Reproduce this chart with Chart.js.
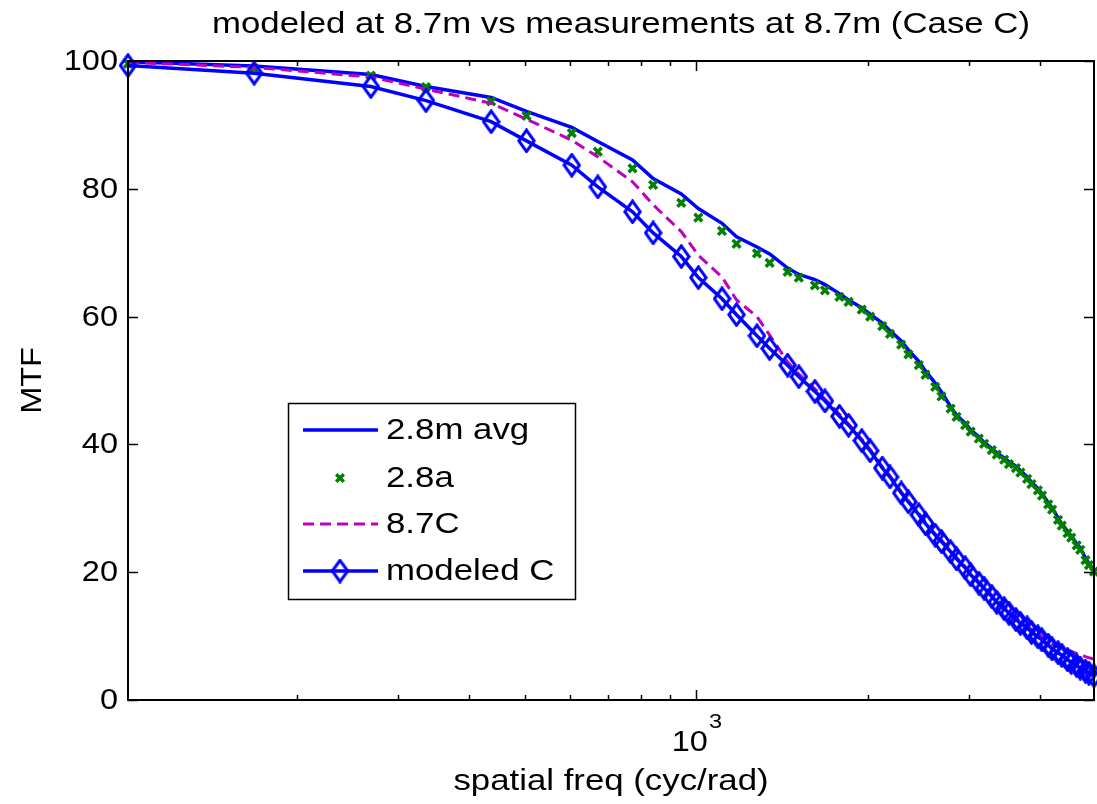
<!DOCTYPE html>
<html>
<head>
<meta charset="utf-8">
<script src="https://cdn.jsdelivr.net/npm/chart.js@4.4.0/dist/chart.umd.min.js"></script>
<style>
  html, body { margin: 0; padding: 0; background: #ffffff; }
  #wrap { width: 1097px; height: 804px; }
</style>
</head>
<body>
<div id="wrap"><canvas id="c" width="1097" height="804"></canvas></div>
<script>
// Spatial frequency samples (cyc/rad)
const freq = [101, 168, 269, 336, 437, 504, 605, 672, 773, 840,
  941, 1008, 1109, 1176, 1277, 1344, 1445, 1512, 1613, 1680,
  1781, 1848, 1949, 2016, 2117, 2184, 2285, 2352, 2453, 2520,
  2621, 2688, 2789, 2856, 2957, 3024, 3125, 3192, 3293, 3360,
  3461, 3528, 3629, 3696, 3797, 3864, 3965, 4032, 4133, 4200,
  4301, 4368, 4469, 4536, 4637, 4704, 4805, 4872, 4973];

// MTF (%) per series
const avg28m = [99.9, 99.2, 97.9, 96.0, 94.3, 92.1, 89.6, 87.4, 84.5, 81.6,
  79.2, 76.9, 74.6, 72.5, 70.9, 69.8, 67.6, 66.6, 65.8, 65.0,
  63.6, 62.6, 61.4, 60.4, 59.0, 57.8, 56.2, 54.8, 53.0, 51.5,
  49.6, 48.2, 45.9, 44.6, 43.3, 42.3, 41.2, 40.3, 39.4, 38.7,
  37.9, 37.3, 36.6, 35.9, 34.9, 34.1, 33.1, 32.3, 30.9, 30.1,
  28.5, 27.6, 26.4, 25.7, 24.5, 23.8, 22.2, 21.4, 20.3];

const meas28a = [99.6, 98.8, 97.7, 95.9, 93.7, 91.4, 88.7, 85.8, 83.2, 80.6,
  77.8, 75.5, 73.4, 71.4, 69.9, 68.4, 67.0, 66.1, 64.9, 64.1,
  63.1, 62.3, 61.1, 60.0, 58.5, 57.3, 55.6, 54.1, 52.4, 50.9,
  49.0, 47.5, 45.6, 44.3, 43.0, 42.0, 40.9, 40.1, 39.1, 38.4,
  37.6, 36.9, 36.3, 35.6, 34.6, 33.8, 32.8, 32.0, 30.6, 29.8,
  28.2, 27.3, 26.1, 25.4, 24.2, 23.5, 21.9, 21.1, 20.1];

const meas87C = [99.8, 99.0, 97.5, 95.6, 93.4, 90.9, 87.6, 85.0, 81.1, 77.5,
  73.3, 69.6, 66.2, 62.6, 60.0, 57.1, 52.9, 51.0, 48.7, 47.1,
  44.7, 43.2, 40.8, 39.2, 36.5, 35.1, 32.6, 31.2, 29.2, 27.8,
  26.0, 25.0, 23.4, 22.3, 20.9, 19.8, 18.5, 17.7, 16.4, 15.6,
  14.6, 13.9, 12.9, 12.3, 11.7, 11.0, 10.4, 9.9, 9.2, 8.7,
  8.3, 8.1, 7.9, 7.6, 7.3, 7.1, 6.8, 6.6, 6.4];

const modeledC = [99.3, 98.1, 96.0, 93.8, 90.5, 87.5, 83.7, 80.3, 76.4, 73.1,
  69.4, 66.1, 62.8, 60.3, 57.0, 55.0, 52.4, 50.6, 48.3, 46.8,
  44.4, 43.0, 40.6, 39.0, 36.3, 34.9, 32.4, 31.0, 29.0, 27.6,
  25.8, 24.8, 23.2, 22.1, 20.7, 19.6, 18.3, 17.5, 16.2, 15.3,
  14.3, 13.6, 12.6, 12.0, 11.3, 10.6, 9.9, 9.4, 8.6, 8.0,
  7.4, 7.0, 6.3, 5.9, 5.4, 5.0, 4.5, 4.2, 3.8];

const seriesNames = ['2.8m avg', '2.8a', '8.7C', 'modeled C'];
const yTicks = [0, 20, 40, 60, 80, 100];
const xMajorTicks = [1000];
const xMinorTicks = [200, 300, 400, 500, 600, 700, 800, 900, 2000, 3000, 4000];
const titleText = 'modeled at 8.7m vs measurements at 8.7m (Case C)';
const xTitle = 'spatial freq (cyc/rad)';
const yTitle = 'MTF';

const BLUE = '#0000ff';
const GREEN = '#008000';
const MAGENTA = '#bf00bf';
const FONT = '"Liberation Sans", Arial, Helvetica, sans-serif';
const FONT_PX = 29;
const STRETCH = 1.2;      // title, axis title, legend text
const TICK_STRETCH = 1.12; // tick labels

// hollow diamond marker sprite
function diamondSprite() {
  const w = 19, h = 25;
  const cv = document.createElement('canvas');
  cv.width = w; cv.height = h;
  const g = cv.getContext('2d');
  g.strokeStyle = BLUE;
  g.lineWidth = 3;
  g.lineJoin = 'miter';
  g.beginPath();
  g.moveTo(w / 2, 1.8);
  g.lineTo(w - 1.8, h / 2);
  g.lineTo(w / 2, h - 1.8);
  g.lineTo(1.8, h / 2);
  g.closePath();
  g.stroke();
  return cv;
}
const diamond = diamondSprite();

const pts = arr => arr.map((v, i) => ({ x: freq[i], y: v }));

function txt(ctx, s, x, y, align, base, size, sx) {
  ctx.save();
  ctx.translate(x, y);
  ctx.scale(sx || STRETCH, 1);
  ctx.font = (size || FONT_PX) + 'px ' + FONT;
  ctx.fillStyle = '#000';
  ctx.textAlign = align;
  ctx.textBaseline = base;
  ctx.fillText(s, 0, 0);
  ctx.restore();
}

const frame = {
  id: 'frame',
  afterDraw(chart) {
    const ctx = chart.ctx;
    const a = chart.chartArea;
    const xs = chart.scales.x, ys = chart.scales.y;
    ctx.save();
    ctx.strokeStyle = '#000';
    ctx.lineWidth = 2;
    ctx.strokeRect(a.left, a.top, a.right - a.left, a.bottom - a.top);

    // inward ticks on all four sides
    ctx.lineWidth = 1.5;
    ctx.beginPath();
    yTicks.forEach(v => {
      const y = Math.round(ys.getPixelForValue(v)) + 0.5;
      ctx.moveTo(a.left, y); ctx.lineTo(a.left + 10, y);
      ctx.moveTo(a.right, y); ctx.lineTo(a.right - 10, y);
    });
    xMinorTicks.forEach(v => {
      const x = Math.round(xs.getPixelForValue(v)) + 0.5;
      ctx.moveTo(x, a.bottom); ctx.lineTo(x, a.bottom - 5);
      ctx.moveTo(x, a.top); ctx.lineTo(x, a.top + 5);
    });
    xMajorTicks.forEach(v => {
      const x = Math.round(xs.getPixelForValue(v)) + 0.5;
      ctx.moveTo(x, a.bottom); ctx.lineTo(x, a.bottom - 10);
      ctx.moveTo(x, a.top); ctx.lineTo(x, a.top + 10);
    });
    ctx.stroke();

    // tick labels
    yTicks.forEach(v => {
      txt(ctx, String(v), a.left - 10, ys.getPixelForValue(v) + 1, 'right', 'middle', FONT_PX, TICK_STRETCH);
    });
    xMajorTicks.forEach(v => {
      const x = xs.getPixelForValue(v);
      const exp = String(Math.round(Math.log10(v)));
      const es = Math.round(FONT_PX * 0.72);
      ctx.font = FONT_PX + 'px ' + FONT;
      const wb = ctx.measureText('10').width * TICK_STRETCH;
      ctx.font = es + 'px ' + FONT;
      const we = ctx.measureText(exp).width * TICK_STRETCH;
      const x0 = x - (wb + we) / 2;
      txt(ctx, '10', x0, a.bottom + 51, 'left', 'alphabetic', FONT_PX, TICK_STRETCH);
      txt(ctx, exp, x0 + wb + 1, a.bottom + 28, 'left', 'alphabetic', es, TICK_STRETCH);
    });

    // titles
    const cx = (a.left + a.right) / 2;
    txt(ctx, titleText, cx + 10, 33, 'center', 'alphabetic');
    txt(ctx, xTitle, cx, a.bottom + 90, 'center', 'alphabetic');
    ctx.save();
    ctx.translate(33, (a.top + a.bottom) / 2);
    ctx.rotate(-Math.PI / 2);
    txt(ctx, yTitle, 0, 0, 'center', 'middle', FONT_PX, TICK_STRETCH);
    ctx.restore();

    // legend
    const L = { x: 288, y: 403, w: 287, h: 196 };
    ctx.fillStyle = '#fff';
    ctx.fillRect(L.x, L.y, L.w, L.h);
    ctx.lineWidth = 1.5;
    ctx.strokeStyle = '#000';
    ctx.strokeRect(L.x + 0.5, L.y + 0.5, L.w, L.h);
    const rows = [430, 478, 524, 571];
    const sx0 = 303, sx1 = 378, mid = 340;
    // 2.8m avg
    ctx.strokeStyle = BLUE; ctx.lineWidth = 3.5; ctx.setLineDash([]);
    ctx.beginPath(); ctx.moveTo(sx0, rows[0]); ctx.lineTo(sx1, rows[0]); ctx.stroke();
    // 2.8a
    ctx.strokeStyle = GREEN; ctx.lineWidth = 3.5;
    ctx.beginPath();
    ctx.moveTo(mid - 3.8, rows[1] - 3.8); ctx.lineTo(mid + 3.8, rows[1] + 3.8);
    ctx.moveTo(mid - 3.8, rows[1] + 3.8); ctx.lineTo(mid + 3.8, rows[1] - 3.8);
    ctx.stroke();
    // 8.7C
    ctx.strokeStyle = MAGENTA; ctx.lineWidth = 3; ctx.setLineDash([11, 6]);
    ctx.beginPath(); ctx.moveTo(sx0, rows[2]); ctx.lineTo(sx1, rows[2]); ctx.stroke();
    ctx.setLineDash([]);
    // modeled C
    ctx.strokeStyle = BLUE; ctx.lineWidth = 3.5;
    ctx.beginPath(); ctx.moveTo(sx0, rows[3]); ctx.lineTo(sx1, rows[3]); ctx.stroke();
    ctx.drawImage(diamond, mid - diamond.width / 2, rows[3] - diamond.height / 2);
    seriesNames.forEach((n, i) => txt(ctx, n, 386, rows[i] + 1, 'left', 'middle'));
    ctx.restore();
  }
};

new Chart(document.getElementById('c'), {
  type: 'line',
  data: {
    datasets: [
      { label: seriesNames[3], data: pts(modeledC), order: 0, borderColor: BLUE, borderWidth: 3.5,
        pointStyle: diamond, pointRadius: 9, pointHoverRadius: 9, fill: false, tension: 0, clip: false },
      { label: seriesNames[2], data: pts(meas87C), order: 1, borderColor: MAGENTA, borderWidth: 3,
        borderDash: [11, 6], pointRadius: 0, fill: false, tension: 0, clip: false },
      { label: seriesNames[1], data: pts(meas28a), order: 2, borderColor: GREEN, backgroundColor: GREEN,
        showLine: false, pointStyle: 'crossRot', pointRadius: 5.5, pointBorderWidth: 3.5, clip: false },
      { label: seriesNames[0], data: pts(avg28m), order: 3, borderColor: BLUE, borderWidth: 3.5,
        pointRadius: 0, fill: false, tension: 0, clip: false }
    ]
  },
  options: {
    responsive: false,
    animation: false,
    devicePixelRatio: 1,
    events: [],
    layout: { autoPadding: false, padding: { left: 128, right: 3, top: 61, bottom: 104 } },
    plugins: { legend: { display: false }, tooltip: { enabled: false }, title: { display: false } },
    scales: {
      x: { type: 'logarithmic', min: freq[0], max: freq[freq.length - 1], display: false },
      y: { type: 'linear', min: 0, max: 100, display: false }
    }
  },
  plugins: [frame]
});
</script>
</body>
</html>
